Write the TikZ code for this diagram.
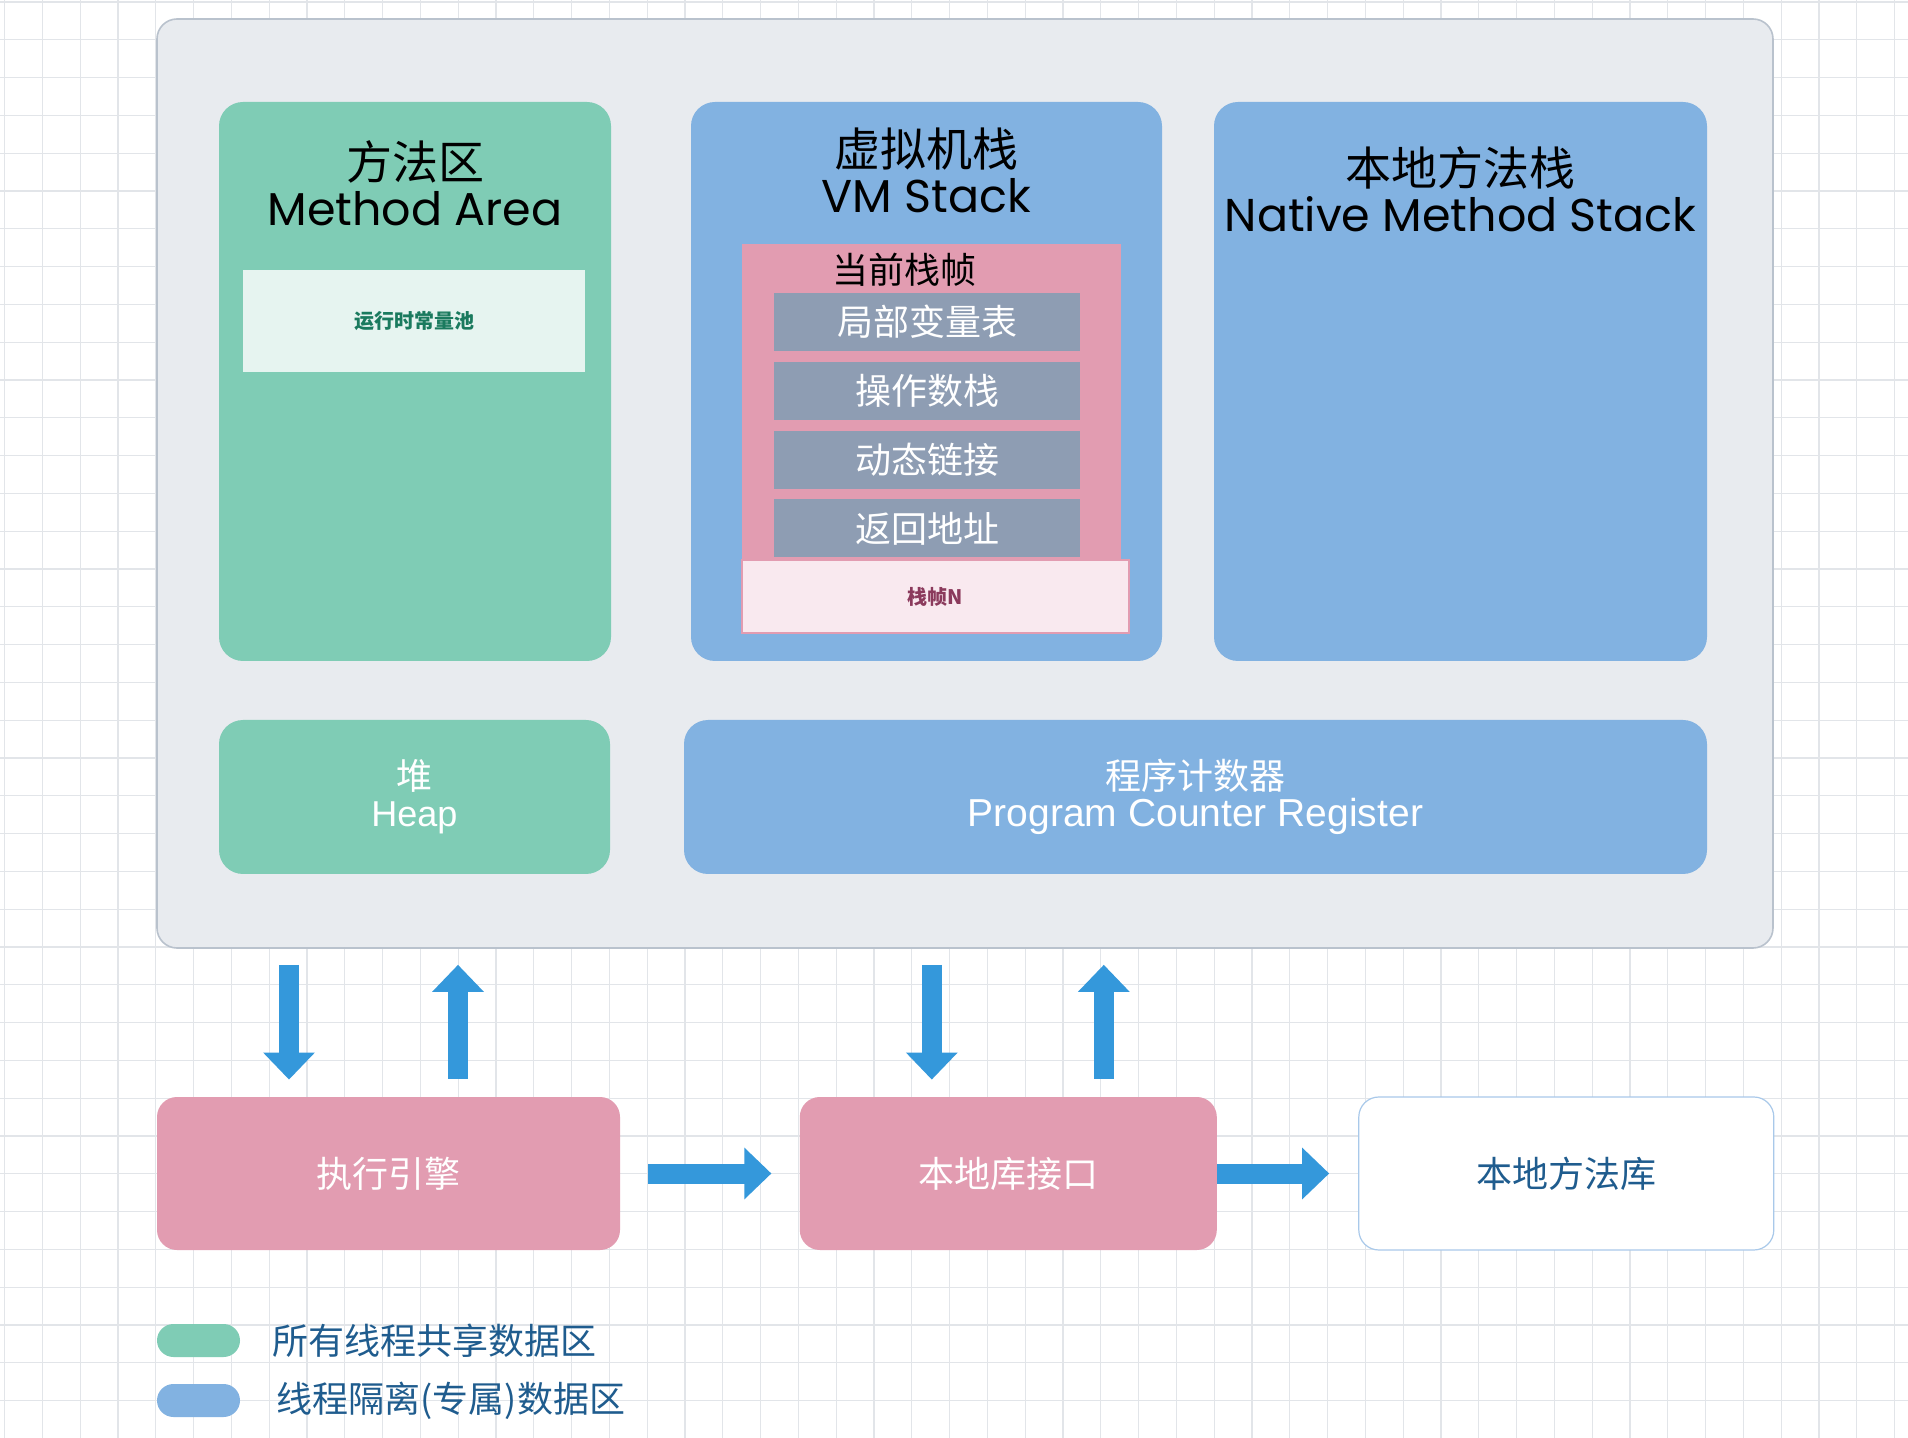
\documentclass[tikz,border=0pt]{standalone}
\usepackage{fontspec}
\setmainfont{Noto Sans CJK SC}
\newfontfamily\geofont{Poppins}
\newfontfamily\helvfont{Liberation Sans}
\usetikzlibrary{positioning,shapes,arrows.meta}

\definecolor{shared}{HTML}{7FCCB5}
\definecolor{private}{HTML}{82B2E1}
\definecolor{framepink}{HTML}{E29CB1}
\definecolor{slotgray}{HTML}{8E9DB3}
\definecolor{jvmfill}{HTML}{E8EBEF}
\definecolor{jvmline}{HTML}{B9C2CD}
\definecolor{arrowblue}{HTML}{3498DB}
\definecolor{inkblue}{HTML}{1F5C8E}
\definecolor{gridline}{HTML}{E2E5E9}
\definecolor{poolfill}{HTML}{E6F4F0}
\definecolor{poolink}{HTML}{1A7A5E}
\definecolor{framenfill}{HTML}{F9E9EF}
\definecolor{framenink}{HTML}{8B3A5C}
\definecolor{libline}{HTML}{A9C9EA}

\begin{document}
\begin{tikzpicture}[x=0.5pt, y=-0.5pt, auto]
	\tikzstyle{area} = [rectangle, inner sep=0pt, rounded corners=12pt, align=center, minimum height=279.5pt]
	\tikzstyle{title} = [align=center, inner sep=0pt, font=\fontsize{23}{23}\selectfont]
	\tikzstyle{slot} = [rectangle, fill=slotgray, inner sep=0pt, minimum width=153pt, minimum height=29pt, text=white, font=\fontsize{18}{20}\selectfont]
	\tikzstyle{box} = [rectangle, rounded corners=10pt, inner sep=0pt, minimum height=76.5pt, font=\fontsize{18}{20}\selectfont]
	\tikzstyle{pill} = [rectangle, rounded corners=8.25pt, minimum width=41.5pt, minimum height=16.5pt, inner sep=0pt]
	\tikzstyle{legendtext} = [inner sep=0pt, text=inkblue, font=\fontsize{18}{20}\selectfont]
	\tikzstyle{bigarrow} = [draw=arrowblue, line width=10pt, -{Triangle[width=25pt,length=13.5pt]}]

	% Background
	\useasboundingbox (0,0) rectangle (1908,1438);
	\fill[white] (0,0) rectangle (1908,1438);
	\foreach \gx in {0,...,50}
		\draw[gridline, line width=0.6pt] (4.6+37.8*\gx,0) -- (4.6+37.8*\gx,1438);
	\foreach \gy in {0,...,38}
		\draw[gridline, line width=0.6pt] (0,2+37.8*\gy) -- (1908,2+37.8*\gy);

	% Place nodes
	\node [rectangle, draw=jvmline, line width=0.8pt, fill=jvmfill, rounded corners=10pt, minimum width=808pt, minimum height=464.5pt] (jvm) at (965,483.5) {};

	\node [area, fill=shared, minimum width=196pt] (ma) at (415,381.5) {};
	\node [area, fill=private, minimum width=235.5pt] (vms) at (926.5,381.5) {};
	\node [area, fill=private, minimum width=246.5pt] (nms) at (1460.5,381.5) {};

	\node [title] (matitle) at (415,183) {方法区\\{\geofont Method Area}};
	\node [title] (vmstitle) at (926.5,170) {虚拟机栈\\{\geofont VM Stack}};
	\node [title] (nmstitle) at (1460.5,189) {本地方法栈\\{\geofont Native Method Stack}};

	\node [rectangle, fill=poolfill, minimum width=171pt, minimum height=51pt, text=poolink, font=\fontsize{10}{12}\selectfont\bfseries] (pool) at (414,321) {运行时常量池};

	\node [rectangle, fill=framepink, minimum width=189.5pt, minimum height=158pt, inner sep=0pt] (frame) at (931.5,402) {};
	\node [inner sep=0pt, font=\fontsize{18}{20}\selectfont] (frametitle) at (904,270) {当前栈帧};
	\node [slot] (s1) at (927,322) {局部变量表};
	\node [slot, below=5pt of s1] (s2) {操作数栈};
	\node [slot, below=5pt of s2] (s3) {动态链接};
	\node [slot, below=5pt of s3] (s4) {返回地址};
	\node [rectangle, draw=framepink, line width=0.6pt, fill=framenfill, minimum width=193.5pt, minimum height=36.5pt, text=framenink, font=\fontsize{10}{12}\selectfont\bfseries] (framen) at (935.5,596.5) {栈帧N};

	\node [area, fill=shared, minimum width=195.5pt, minimum height=77pt, text=white, font=\fontsize{18}{18.5}\selectfont] (heap) at (414.5,797) {堆\\{\helvfont Heap}};
	\node [area, fill=private, minimum width=511.5pt, minimum height=77pt, text=white, font=\fontsize{18}{18.5}\selectfont] (pc) at (1195.5,797) {程序计数器\\{\helvfont\fontsize{19.5}{18.5}\selectfont Program Counter Register}};

	\node [box, fill=framepink, minimum width=231.5pt, text=white] (engine) at (388.5,1173.5) {执行引擎};
	\node [box, fill=framepink, minimum width=208.5pt, text=white, right=89.5pt of engine] (iface) {本地库接口};
	\node [box, draw=libline, line width=0.6pt, fill=white, minimum width=207.5pt, text=inkblue, right=70.5pt of iface] (lib) {本地方法库};

	\node [pill, fill=shared] (leg1) at (198.5,1340.5) {};
	\node [pill, fill=private] (leg2) at (198.5,1400.5) {};
	\node [legendtext, right=16pt of leg1] (leg1text) {所有线程共享数据区};
	\node [legendtext, right=18pt of leg2] (leg2text) {线程隔离(专属)数据区};

	% Draw edges
	\coordinate (e1) at ([xshift=-49.75pt]engine.north);
	\coordinate (e2) at ([xshift=34.75pt]engine.north);
	\coordinate (i1) at ([xshift=-38.25pt]iface.north);
	\coordinate (i2) at ([xshift=47.75pt]iface.north);
	\draw [bigarrow, shorten <=8pt, shorten >=8.5pt] (e1 |- jvm.south) -- (e1);
	\draw [bigarrow, shorten <=9pt, shorten >=8pt] (e2) -- (e2 |- jvm.south);
	\draw [bigarrow, shorten <=8pt, shorten >=8.5pt] (i1 |- jvm.south) -- (i1);
	\draw [bigarrow, shorten <=9pt, shorten >=8pt] (i2) -- (i2 |- jvm.south);
	\draw [bigarrow, shorten <=14pt, shorten >=14pt] (engine) -- (iface);
	\draw [bigarrow, shorten >=14.5pt] (iface) -- (lib);
\end{tikzpicture}
\end{document}
